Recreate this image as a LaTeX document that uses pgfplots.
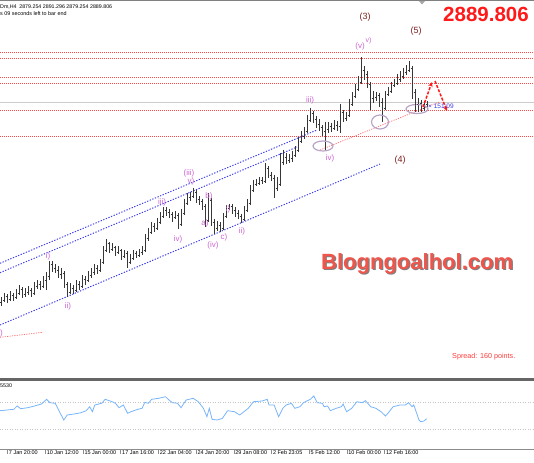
\documentclass[border=0pt]{standalone}
\usepackage{fontspec}
\setmainfont{Liberation Sans}
\usepackage{pgfplots}
\usepackage{pgfplotstable}
\pgfplotsset{compat=1.18}
\usetikzlibrary{arrows.meta}

\definecolor{barc}{RGB}{55,55,55}
\definecolor{fibo}{RGB}{255,70,70}
\definecolor{chan}{RGB}{60,60,235}
\definecolor{wave}{RGB}{205,100,210}
\definecolor{deg}{RGB}{130,30,30}
\definecolor{osc}{RGB}{120,180,250}
\definecolor{ring}{RGB}{185,165,200}
\definecolor{pricered}{RGB}{255,25,25}
\definecolor{wm}{RGB}{240,85,75}

\pgfdeclareplotmark{otick}{\pgfpathmoveto{\pgfqpoint{-1.4pt}{0pt}}\pgfpathlineto{\pgfqpoint{0pt}{0pt}}\pgfusepathqstroke}
\pgfdeclareplotmark{ctick}{\pgfpathmoveto{\pgfqpoint{0pt}{0pt}}\pgfpathlineto{\pgfqpoint{1.4pt}{0pt}}\pgfusepathqstroke}

% H4 bars: x = column, o/h/l/c = screen rows (axis reversed)
\pgfplotstableread{
x o h l c
1 302 297 306 300
4 300 293 302 296
7 296 294 303 299
10 299 291 301 295
13 295 293 301 297
16 297 289 299 293
19 293 285 295 289
22 289 287 298 294
25 294 288 297 292
28 292 286 295 290
31 290 288 297 293
34 293 282 295 286
37 286 280 289 284
40 284 281 290 286
43 286 276 288 280
46 280 272 290 276
49 276 261 280 264
52 264 261 272 268
55 268 264 273 270
58 270 266 278 274
61 274 268 279 273
64 273 271 288 284
67 284 282 297 292
70 292 283 294 288
73 288 285 294 290
76 290 280 292 284
79 284 281 290 286
82 286 275 288 279
85 279 276 285 280
88 280 271 282 275
91 275 268 278 272
94 272 264 275 268
97 268 265 274 270
100 270 259 272 262
103 262 246 264 250
106 250 239 252 243
109 243 242 253 249
112 249 243 251 247
115 247 246 256 252
118 252 246 254 250
121 250 249 260 256
124 256 250 258 253
127 253 251 268 262
130 262 254 264 258
133 258 250 260 253
136 253 251 258 255
139 255 249 257 252
142 252 246 255 250
145 250 234 252 238
148 238 228 241 232
151 232 222 234 226
154 226 223 232 228
157 228 218 230 222
160 222 212 224 216
163 216 207 218 210
166 210 207 216 212
169 212 209 218 214
172 214 212 222 217
175 217 211 219 215
178 215 213 229 224
181 224 209 226 213
184 213 199 215 203
187 203 193 205 197
190 197 192 201 196
193 196 188 198 192
196 192 190 203 199
199 199 196 205 201
202 201 199 210 206
205 206 204 227 220
208 220 193 222 200
211 200 198 226 222
214 222 219 234 228
217 228 221 231 225
220 225 222 232 228
223 228 213 230 216
226 216 205 218 208
229 208 204 210 206
232 206 204 214 210
235 210 207 217 213
238 213 210 219 216
241 216 214 223 219
244 219 206 221 210
247 210 199 212 203
250 203 185 205 190
253 190 180 192 184
256 184 179 186 183
259 183 177 185 180
262 180 177 184 181
265 181 163 183 168
268 168 166 178 175
271 175 172 181 178
274 178 175 198 188
277 188 177 191 184
280 184 153 186 162
283 162 150 165 157
286 157 153 164 160
289 160 154 163 158
292 158 151 162 155
295 155 146 157 150
298 150 137 152 141
301 141 131 143 136
304 136 127 139 131
307 131 115 133 120
310 120 108 122 113
313 113 111 123 119
316 119 116 128 124
319 124 119 131 127
322 127 125 136 131
325 131 122 150 129
328 129 122 133 126
331 126 123 132 128
334 128 120 130 125
337 125 121 131 126
340 126 104 133 112
343 112 110 122 118
346 118 112 121 115
349 115 99 117 104
352 104 92 106 96
355 96 84 98 89
358 89 76 91 82
361 82 57 84 70
364 70 66 80 74
367 74 71 88 84
370 84 82 110 98
373 98 91 103 97
376 97 92 101 95
379 95 93 107 102
382 102 98 122 108
385 108 91 110 94
388 94 87 96 91
391 91 82 93 85
394 85 79 87 83
397 83 74 85 79
400 79 71 82 76
403 76 68 79 72
406 72 65 75 70
409 70 61 72 68
412 68 66 99 92
415 92 89 112 104
418 104 98 112 103
421 103 100 112 108
424 108 101 111 104
427 104 101 109 102
}\bars

% oscillator sub-window (screen rows)
\pgfplotstableread{
x y
0 410.7
6.9 410
13.8 409.3
17.2 406
20.7 408.7
27.6 407.7
34.5 406
41.4 404
46.6 399.3
50 402.7
55.2 403.3
60.3 413.3
63.8 420
67.2 415
74.1 414
81 412.7
86.2 410.7
89.7 406.7
92.4 411.7
94.8 405
101.7 403.3
105.2 399.3
112.1 401.7
115.5 403.3
119 407.7
123.4 405
127.6 413.3
131 411.7
137.9 409.3
142.1 408.3
144.8 402.3
148.3 403.3
151.7 399.3
158.6 398.3
165.5 396.7
169 400
172.4 402.7
177.6 403.3
181 407.7
186.2 400
193.1 398.3
198.3 401.7
203.4 408.3
206.9 416.7
209.3 408.3
212.1 419.3
217.2 420
222.4 418.3
227.6 410.7
234.5 411.7
239.7 415
248.3 408.3
253.4 401.7
262.1 401
267.2 399.3
269 405
274.1 405
278.6 416.7
282.8 408.3
286.2 405
291.4 403.3
294.8 408.3
300 406.7
303.4 402.7
310.3 399.3
313.8 396
317.2 402.7
322.4 403.3
324.1 406.7
327.6 406
330.3 410.7
336.2 408.3
341.4 406.7
343.1 404
346.6 411.7
351.7 408.3
356.9 401.7
362.1 402.7
365.5 400.7
370.7 406.7
375.9 408.3
381 411.7
385.5 416
387.9 413.3
393.1 406.7
400 405
405.2 405
408.6 402.7
412.1 406.7
413.8 405
419 420
420.7 421.7
424.1 421
426.6 418.7
}\osc

\begin{document}
\begin{tikzpicture}
\path[use as bounding box] (0,0) rectangle (534pt,462pt);

% ---- price window ----
\begin{axis}[at={(0pt,462pt)}, anchor=north west, scale only axis,
  width=534pt, height=380pt, xmin=0, xmax=534, ymin=0, ymax=380,
  y dir=reverse, hide axis, clip=false]
% frame lines
\addplot[gray, line width=1pt] coordinates {(0,1)(534,1)};
\addplot[gray!80!black, line width=2.2pt] coordinates {(0,379.5)(534,379.5)};
\fill[gray!70] (axis cs:419,1) -- (axis cs:425,1) -- (axis cs:422,4.5) -- cycle;
% fibo levels
\foreach \lv in {52.3,58.3,77.3,83.3,110.3,136}{
  \addplot[fibo, line width=0.7pt, dash pattern=on 1pt off 1pt] coordinates {(0,\lv)(534,\lv)};
}
% bid line
\addplot[gray!40, line width=1pt] coordinates {(0,102.3)(534,102.3)};
% channel
\addplot[chan, line width=0.95pt, dash pattern=on 1.3pt off 1.5pt] coordinates {(0,263.3)(317,130)};
\addplot[chan, line width=0.95pt, dash pattern=on 1.3pt off 1.5pt] coordinates {(0,272.7)(297,147)};
\addplot[chan, line width=0.95pt, dash pattern=on 1.3pt off 1.5pt] coordinates {(0,325)(380,164)};
% red trend lines
\addplot[fibo!80, line width=0.7pt, dash pattern=on 1.2pt off 1.2pt] coordinates {(320,150)(440,101.7)};
\addplot[fibo!80, line width=0.7pt, dash pattern=on 1.2pt off 1.2pt] coordinates {(0,337.3)(43,332.3)};
% bars
\addplot[draw=none, mark=none, forget plot,
  error bars/.cd, y dir=plus, y explicit, error mark=none,
  error bar style={draw=barc, line width=0.6pt}]
  table[x=x, y=h, y error plus expr=\thisrow{l}-\thisrow{h}] {\bars};
\addplot[only marks, mark=otick, mark options={draw=barc, line width=0.6pt}] table[x=x, y=o] {\bars};
\addplot[only marks, mark=ctick, mark options={draw=barc, line width=0.6pt}] table[x=x, y=c] {\bars};
% rings
\draw[ring, line width=1.2pt] (axis cs:323,146) ellipse [x radius=10pt, y radius=5pt];
\draw[ring, line width=1.2pt] (axis cs:380,122) ellipse [x radius=8.5pt, y radius=7pt];
\draw[ring, line width=1.2pt] (axis cs:417,109) ellipse [x radius=11pt, y radius=4.5pt];
% projected path
\addplot[pricered, line width=1.5pt, dash pattern=on 3pt off 1.5pt, -{Stealth[length=5pt,width=4.5pt]}]
  coordinates {(423,107)(432,82)};
\addplot[pricered, line width=1.5pt, dash pattern=on 3pt off 1.5pt, -{Stealth[length=5pt,width=4.5pt]}]
  coordinates {(435,81)(447,111)};
% texts
\node[anchor=west, inner sep=0pt, font=\fontsize{5.3}{6}\selectfont] at (axis cs:0,7) {Dm,H4\enspace 2879.254 2891.296 2879.254 2889.806};
\node[anchor=west, inner sep=0pt, font=\fontsize{5.4}{6}\selectfont] at (axis cs:0,14) {s 09 seconds left to bar end};
\node[anchor=base west, inner sep=0pt, text=pricered, font=\fontsize{20.5}{22}\selectfont\bfseries] at (axis cs:443,21.7) {2889.806};
\node[anchor=west, inner sep=0pt, text=chan, font=\fontsize{6.5}{7}\selectfont] at (axis cs:428,106) {× 151:09};
\node[anchor=base west, inner sep=0pt, text=gray, font=\fontsize{22}{24}\selectfont\bfseries] at (axis cs:322.2,270.3) {Blogngoalhol.com};
\node[anchor=base west, inner sep=0pt, text=wm, font=\fontsize{22}{24}\selectfont\bfseries] at (axis cs:321,269.3) {Blogngoalhol.com};
\node[anchor=west, inner sep=0pt, text=pricered!85, font=\fontsize{7.2}{8}\selectfont] at (axis cs:452,357) {Spread: 160 points.};
% degree labels
\begin{scope}[every node/.style={text=deg, font=\fontsize{9}{10}\selectfont, inner sep=0pt}]
\node at (axis cs:365,17) {(3)};
\node at (axis cs:416,31) {(5)};
\node at (axis cs:400,160) {(4)};
\end{scope}
\begin{scope}[every node/.style={text=wave, font=\fontsize{8}{9}\selectfont, inner sep=0pt}]
\node at (axis cs:48,256) {i)};
\node at (axis cs:68,306) {ii)};
\node at (axis cs:162,202.5) {iii)};
\node at (axis cs:178,239) {iv)};
\node at (axis cs:189,173) {(iii)};
\node at (axis cs:191,181.5) {v)};
\node at (axis cs:209,196) {b)};
\node at (axis cs:205,223) {a)};
\node at (axis cs:213,245) {(iv)};
\node at (axis cs:224,237) {c)};
\node at (axis cs:228,209) {i)};
\node at (axis cs:242,231) {ii)};
\node at (axis cs:310,100) {iii)};
\node at (axis cs:330,158) {iv)};
\node at (axis cs:360,46) {(v)};
\node[font=\fontsize{7}{8}\selectfont] at (axis cs:368.5,40.5) {v)};
\node[anchor=east] at (axis cs:3,333) {)};
\end{scope}
\end{axis}

% ---- oscillator window ----
\begin{axis}[at={(0pt,82pt)}, anchor=north west, scale only axis,
  width=534pt, height=69pt, xmin=0, xmax=534, ymin=380, ymax=449,
  y dir=reverse, hide axis, clip=false]
\addplot[gray!45, line width=0.6pt, dash pattern=on 1pt off 1.5pt] coordinates {(0,402.3)(534,402.3)};
\addplot[gray!45, line width=0.6pt, dash pattern=on 1pt off 1.5pt] coordinates {(0,429.3)(534,429.3)};
\addplot[osc, line width=0.8pt] table[x=x, y=y] {\osc};
\node[anchor=west, inner sep=0pt, font=\fontsize{5.3}{6}\selectfont] at (axis cs:0,386) {5530};
\end{axis}

% ---- time scale ----
\begin{axis}[at={(0pt,82pt)}, anchor=north west, scale only axis,
  width=534pt, height=69pt, xmin=0, xmax=534, ymin=0, ymax=1,
  axis x line=bottom, axis y line=none, ytick=\empty,
  axis line style={-, draw=gray!90, line width=0.9pt},
  xtick={7.5,45.3,83,120.7,158.4,196.1,233.8,271.5,309.2,346.9,384.6},
  xticklabels={7 Jan 20:00,10 Jan 12:00,15 Jan 00:00,17 Jan 16:00,22 Jan 04:00,24 Jan 20:00,29 Jan 08:00,2 Feb 23:05,5 Feb 12:00,10 Feb 00:00,12 Feb 16:00},
  tick align=outside, major tick length=5pt,
  tick style={draw=gray!90, line width=0.6pt},
  xticklabel style={font=\fontsize{5.5}{6}\selectfont, anchor=north west, inner sep=0pt, xshift=1.3pt, yshift=3.5pt}]
\end{axis}
\end{tikzpicture}
\end{document}
